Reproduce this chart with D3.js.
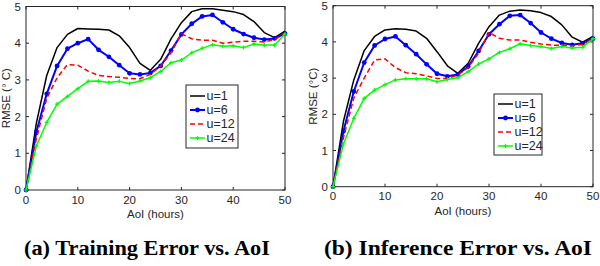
<!DOCTYPE html>
<html>
<head>
<meta charset="utf-8">
<script src="https://cdn.jsdelivr.net/npm/d3@7"></script>
<style>
  body { margin: 0; background: #fff; }
  svg { display: block; }
  text { font-family: "Liberation Sans", Arial, sans-serif; fill: #262626; }
  .cap { font-family: "Liberation Serif", "DejaVu Serif", serif; font-weight: 700; fill: #000; }
</style>
</head>
<body>
<svg id="chart" width="600" height="266"></svg>
<script>
// AoI sample points (hours)
const aoi = [0, 2, 4, 6, 8, 10, 12, 14, 16, 18, 20, 22, 24, 26, 28, 30, 32, 34, 36, 38, 40, 42, 44, 46, 48, 50];

// (a) training error
const trainU1  = [0, 1.82, 3.12, 3.88, 4.24, 4.40, 4.39, 4.38, 4.36, 4.20, 3.88, 3.45, 3.26, 3.56, 4.12, 4.56, 4.86, 4.94, 4.94, 4.90, 4.86, 4.78, 4.59, 4.29, 4.15, 4.33];
const trainU6  = [0, 1.58, 2.62, 3.38, 3.85, 4.00, 4.11, 3.82, 3.63, 3.40, 3.18, 3.15, 3.19, 3.38, 3.80, 4.24, 4.53, 4.73, 4.77, 4.57, 4.38, 4.25, 4.15, 4.10, 4.13, 4.26];
const trainU12 = [0, 1.40, 2.50, 3.06, 3.42, 3.40, 3.24, 3.12, 3.09, 3.07, 3.04, 3.03, 3.15, 3.38, 3.74, 4.26, 4.12, 4.08, 4.08, 4.00, 4.03, 4.05, 4.05, 4.03, 4.10, 4.26];
const trainU24 = [0, 1.20, 1.84, 2.34, 2.55, 2.76, 2.96, 2.97, 2.93, 2.96, 2.90, 2.97, 3.06, 3.23, 3.47, 3.54, 3.74, 3.86, 3.96, 3.92, 3.93, 3.88, 3.98, 3.95, 3.95, 4.25];

// (b) inference error
const inferU1  = [0, 1.80, 2.95, 3.76, 4.15, 4.33, 4.36, 4.35, 4.30, 4.10, 3.73, 3.34, 3.13, 3.41, 3.96, 4.42, 4.74, 4.85, 4.88, 4.86, 4.81, 4.70, 4.47, 4.13, 3.99, 4.15];
const inferU6  = [0, 1.53, 2.63, 3.43, 3.90, 4.08, 4.15, 3.91, 3.66, 3.38, 3.12, 3.05, 3.10, 3.32, 3.75, 4.21, 4.49, 4.72, 4.74, 4.52, 4.26, 4.09, 3.97, 3.92, 3.96, 4.09];
const inferU12 = [0, 1.35, 2.45, 3.00, 3.50, 3.53, 3.29, 3.15, 3.12, 3.06, 2.99, 2.99, 3.08, 3.29, 3.69, 4.26, 4.10, 4.05, 4.05, 3.99, 3.94, 3.91, 3.91, 3.89, 3.93, 4.08];
const inferU24 = [0, 1.18, 1.89, 2.44, 2.67, 2.82, 2.95, 2.98, 2.98, 2.98, 2.90, 2.96, 3.01, 3.18, 3.39, 3.53, 3.71, 3.81, 3.95, 3.90, 3.87, 3.82, 3.87, 3.83, 3.85, 4.09];

const seriesNames = ["u=1", "u=6", "u=12", "u=24"];
const xTicks = [0, 10, 20, 30, 40, 50];
const yTicks = [0, 1, 2, 3, 4, 5];

const styles = [
  { color: "#000000", width: 1.5, dash: null, marker: null },
  { color: "#0000ff", width: 2, dash: null, marker: "circle" },
  { color: "#ff0000", width: 1.5, dash: "5,3", marker: null },
  { color: "#00ff00", width: 1.5, dash: null, marker: "plus" }
];

const svg = d3.select("#chart");

function drawPanel(p) {
  const x = d3.scaleLinear().domain([0, 50]).range([p.left, p.right]);
  const y = d3.scaleLinear().domain([0, 5]).range([p.bottom, p.top]);
  const g = svg.append("g");
  const tick = 3;

  // axes box
  g.append("rect")
    .attr("x", p.left).attr("y", p.top)
    .attr("width", p.right - p.left).attr("height", p.bottom - p.top)
    .attr("fill", "#fff").attr("stroke", "#262626").attr("stroke-width", 1);

  // inward ticks on all sides
  for (const t of xTicks) {
    g.append("line").attr("x1", x(t)).attr("x2", x(t)).attr("y1", p.bottom).attr("y2", p.bottom - tick)
      .attr("stroke", "#262626");
    g.append("line").attr("x1", x(t)).attr("x2", x(t)).attr("y1", p.top).attr("y2", p.top + tick)
      .attr("stroke", "#262626");
    g.append("text").attr("x", x(t)).attr("y", p.bottom + 13.5)
      .attr("text-anchor", "middle").attr("font-size", 11.5).text(t);
  }
  for (const t of yTicks) {
    g.append("line").attr("x1", p.left).attr("x2", p.left + tick).attr("y1", y(t)).attr("y2", y(t))
      .attr("stroke", "#262626");
    g.append("line").attr("x1", p.right).attr("x2", p.right - tick).attr("y1", y(t)).attr("y2", y(t))
      .attr("stroke", "#262626");
    g.append("text").attr("x", p.left - 5).attr("y", y(t) + 4)
      .attr("text-anchor", "end").attr("font-size", 11.5).text(t);
  }

  // axis labels
  g.append("text").attr("x", (p.left + p.right) / 2).attr("y", p.bottom + 28)
    .attr("text-anchor", "middle").attr("font-size", 11.5).text("AoI (hours)");
  g.append("text")
    .attr("transform", `translate(${p.left - 16},${(p.top + p.bottom) / 2}) rotate(-90)`)
    .attr("text-anchor", "middle").attr("font-size", 11.5).text(p.ylabel);

  // lines
  const line = d3.line().x((d, i) => x(aoi[i])).y(d => y(d));
  p.series.forEach((vals, k) => {
    const s = styles[k];
    g.append("path").datum(vals)
      .attr("d", line)
      .attr("fill", "none")
      .attr("stroke", s.color)
      .attr("stroke-width", s.width)
      .attr("stroke-dasharray", s.dash)
      .attr("stroke-linejoin", "round");
    if (s.marker === "circle") {
      g.append("g").selectAll("circle").data(vals).enter().append("circle")
        .attr("cx", (d, i) => x(aoi[i])).attr("cy", d => y(d)).attr("r", 2.4)
        .attr("fill", s.color);
    } else if (s.marker === "plus") {
      g.append("g").selectAll("path").data(vals).enter().append("path")
        .attr("d", (d, i) => {
          const cx = x(aoi[i]), cy = y(d);
          return `M${cx - 2},${cy}H${cx + 2}M${cx},${cy - 2}V${cy + 2}`;
        })
        .attr("stroke", s.color).attr("stroke-width", 1.2);
    }
  });

  // legend
  const L = p.legend;
  const lg = g.append("g");
  lg.append("rect").attr("x", L.x).attr("y", L.y).attr("width", L.w).attr("height", L.h)
    .attr("fill", "#fff").attr("stroke", "#262626").attr("stroke-width", 1);
  seriesNames.forEach((name, k) => {
    const s = styles[k];
    const cy = L.y + L.first + k * L.step;
    lg.append("line").attr("x1", L.x + 4).attr("x2", L.x + 19).attr("y1", cy).attr("y2", cy)
      .attr("stroke", s.color).attr("stroke-width", s.width).attr("stroke-dasharray", s.dash);
    if (s.marker === "circle") {
      lg.append("circle").attr("cx", L.x + 11.5).attr("cy", cy).attr("r", 2.4).attr("fill", s.color);
    } else if (s.marker === "plus") {
      lg.append("path").attr("d", `M${L.x + 9.5},${cy}H${L.x + 13.5}M${L.x + 11.5},${cy - 2}V${cy + 2}`)
        .attr("stroke", s.color).attr("stroke-width", 1.2);
    }
    lg.append("text").attr("x", L.x + 20.5).attr("y", cy + 4.3).attr("font-size", 12.5).text(name);
  });

  // caption
  svg.append("text").attr("class", "cap")
    .attr("x", p.capX).attr("y", 255).attr("text-anchor", "middle")
    .attr("font-size", 20).attr("textLength", p.capW).attr("lengthAdjust", "spacingAndGlyphs")
    .text(p.caption);
}

drawPanel({
  left: 26, right: 285, top: 6.5, bottom: 190,
  ylabel: "RMSE (° C)",
  series: [trainU1, trainU6, trainU12, trainU24],
  legend: { x: 186, y: 85, w: 52, h: 63, first: 11, step: 14 },
  caption: "(a) Training Error vs. AoI", capX: 147, capW: 246
});

drawPanel({
  left: 333, right: 593, top: 5.7, bottom: 186.7,
  ylabel: "RMSE (°C)",
  series: [inferU1, inferU6, inferU12, inferU24],
  legend: { x: 494, y: 94, w: 48, h: 61, first: 10, step: 14 },
  caption: "(b) Inference Error vs. AoI", capX: 458, capW: 268
});
</script>
</body>
</html>
